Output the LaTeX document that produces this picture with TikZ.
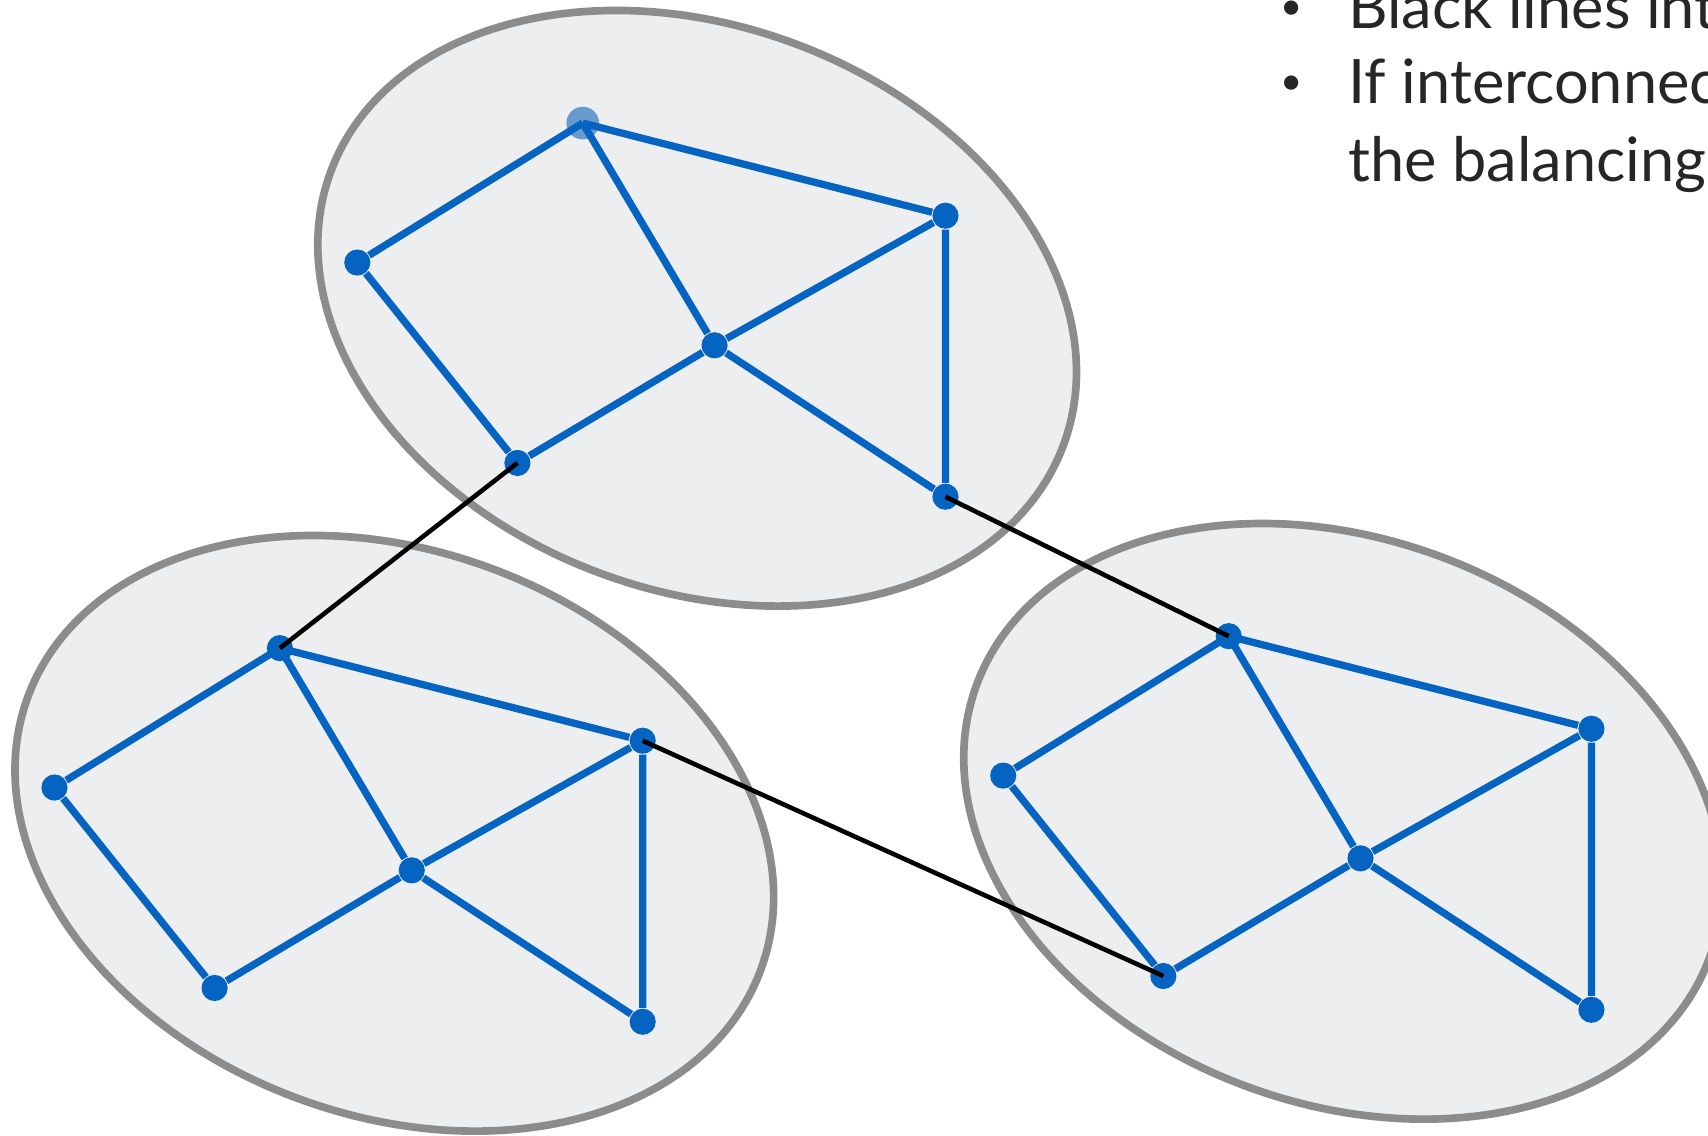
\documentclass[tikz,border=0pt]{standalone}
\usepackage{fontspec}
\setmainfont{Lato}
\usetikzlibrary{positioning}

\definecolor{netblue}{RGB}{5,99,193}
\definecolor{netfaint}{RGB}{104,154,206}
\definecolor{blobfill}{RGB}{237,238,240}
\definecolor{blobline}{RGB}{140,140,140}

\begin{document}
\begin{tikzpicture}[
  x=0.01cm, y=-0.01cm,
  font=\fontsize{16}{20}\selectfont,
  blob/.style={draw=blobline, fill=blobfill, line width=2pt},
  link/.style={draw=netblue, line width=1.9pt},
  dot/.style={circle, fill=netblue, inner sep=0pt, minimum size=0.24cm},
  faint/.style={dot, fill=netfaint, minimum size=0.3cm},
  tie/.style={draw=black, line width=1.2pt},
  note/.style={anchor=base west, inner sep=0pt, text=black!85},
  bul/.style={inner sep=0pt, font=\fontsize{10}{12}\selectfont, text=black!85}
]
\clip (0,0) rectangle (1568,1042);

% three clusters, same shape, shifted
\foreach \c/\dx/\dy/\top in {t/0/0/faint, l/-278/482/dot, r/593/471/dot} {
  \begin{scope}[shift={(\dx,\dy)}]
    \draw[blob, shift={(640,283)}, rotate=-20.6] (0,0) ellipse [x radius=359, y radius=259];
    \node[\top] (\c a) at (535,113) {};
    \node[dot] (\c b) at (328,241) {};
    \node[dot] (\c c) at (868,198) {};
    \node[dot] (\c d) at (656,317) {};
    \node[dot] (\c e) at (475,425) {};
    \node[dot] (\c f) at (868,456) {};
    \draw[link] (\c a.center) -- (\c b) -- (\c e) -- (\c d) -- (\c c) -- (\c f) -- (\c d);
    \draw[link] (\c a.center) -- (\c c);
    \draw[link] (\c a.center) -- (\c d);
  \end{scope}
}

% links between clusters
\draw[tie] (te.center) -- (la.center);
\draw[tie] (tf.center) -- (ra.center);
\draw[tie] (lc.center) -- (re.center);

% cut-off notes
\node[note] (n1) at (1237,26) {Black lines int};
\node[note] (n2) at (1237,95) {If interconnec};
\node[note] (n3) at (1237,167) {the balancing};
\node[bul] (b1) at (1186,9) {\textbullet};
\node[bul] (b2) at (1186,78) {\textbullet};
\end{tikzpicture}
\end{document}
